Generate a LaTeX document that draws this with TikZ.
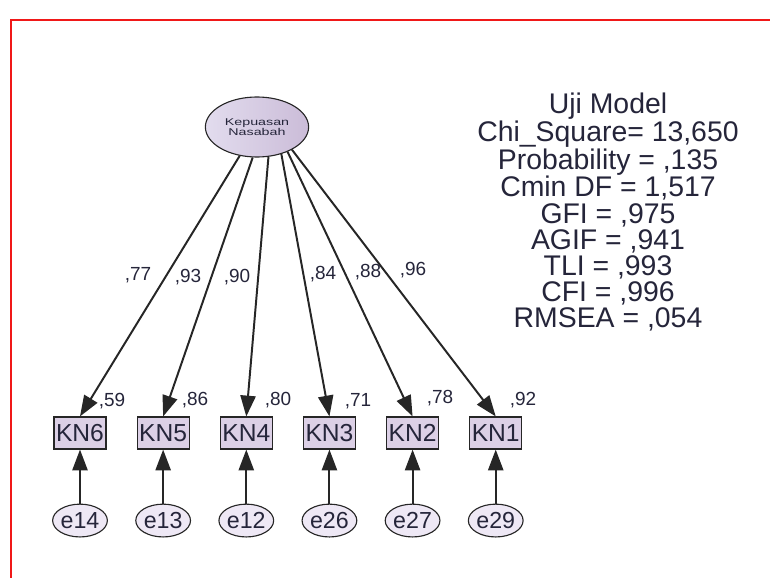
\documentclass[tikz,border=0pt]{standalone}
\usepackage{fontspec}
\setmainfont{Liberation Sans}
\usepackage{graphicx}
\usepackage{tikz}
\usetikzlibrary{positioning,arrows.meta,shapes.geometric}
\definecolor{AmosLine}{HTML}{262626}
\definecolor{AmosText}{HTML}{25253A}
\definecolor{LatentLeft}{HTML}{E2DCEE}
\definecolor{LatentMid}{HTML}{EEE6F6}
\definecolor{LatentRight}{HTML}{CBBCD8}
\definecolor{ItemFill}{HTML}{DCD0E6}
\definecolor{ErrFill}{HTML}{EEE8F5}
\definecolor{FrameRed}{HTML}{F01818}
\newcommand{\widetext}[1]{\scalebox{1.45}[1]{#1}}

\begin{document}
\begin{tikzpicture}[
        x=0.025cm, y=-0.025cm,
        node distance=0.75cm,
        latent/.style={
            ellipse,
            draw=AmosLine,
            thick,
            left color=LatentLeft,
            middle color=LatentMid,
            right color=LatentRight,
            minimum width=2.58cm,
            minimum height=1.5cm,
            inner sep=0pt,
            align=center,
            text=AmosText,
            font=\fontsize{7}{7.5}\selectfont
        },
        item/.style={
            draw=AmosLine,
            thick,
            fill=ItemFill,
            minimum width=1.3cm,
            minimum height=0.8cm,
            inner sep=0pt,
            text=AmosText,
            font=\fontsize{17.5}{17.5}\selectfont
        },
        err/.style={
            ellipse,
            draw=AmosLine,
            thick,
            fill=ErrFill,
            minimum width=1.05cm,
            minimum height=0.82cm,
            inner sep=0pt,
            text=AmosText,
            font=\fontsize{16.5}{16.5}\selectfont
        },
        coef/.style={inner sep=0pt, text=AmosText, font=\fontsize{13.5}{14}\selectfont},
        stats/.style={align=center, inner sep=0pt, text=AmosText, font=\fontsize{20.2}{18.6}\selectfont},
        arr/.style={-{Triangle[length=0.52cm, width=0.38cm]}, line width=1.4pt, AmosLine}
    ]
        \useasboundingbox (0,0) rectangle (770,578);
        \draw[FrameRed, line width=1.3pt] (770,20) -| (11,578);

        \node[latent] (kn) at (257,127) {\widetext{Kepuasan}\\\widetext{Nasabah}};

        \node[item] (kn6) at (80,433) {KN6};
        \node[item, right=of kn6] (kn5) {KN5};
        \node[item, right=of kn5] (kn4) {KN4};
        \node[item, right=of kn4] (kn3) {KN3};
        \node[item, right=of kn3] (kn2) {KN2};
        \node[item, right=of kn2] (kn1) {KN1};

        \node[err, below=1.35cm of kn6] (e14) {e14};
        \node[err, below=1.35cm of kn5] (e13) {e13};
        \node[err, below=1.35cm of kn4] (e12) {e12};
        \node[err, below=1.35cm of kn3] (e26) {e26};
        \node[err, below=1.35cm of kn2] (e27) {e27};
        \node[err, below=1.35cm of kn1] (e29) {e29};

        \draw[arr] (kn.239) -- (kn6.north);
        \draw[arr] (kn.262) -- (kn5.north);
        \draw[arr] (kn.291) -- (kn4.north);
        \draw[arr] (kn.312) -- (kn3.north);
        \draw[arr] (kn.321) -- (kn2.north);
        \draw[arr] (kn.327) -- (kn1.north);

        \draw[arr] (e14) -- (kn6);
        \draw[arr] (e13) -- (kn5);
        \draw[arr] (e12) -- (kn4);
        \draw[arr] (e26) -- (kn3);
        \draw[arr] (e27) -- (kn2);
        \draw[arr] (e29) -- (kn1);

        \node[coef] (w6) at (138,275) {,77};
        \node[coef] (w5) at (188,277) {,93};
        \node[coef] (w4) at (237,277) {,90};
        \node[coef] (w3) at (323,274) {,84};
        \node[coef] (w2) at (368,272) {,88};
        \node[coef] (w1) at (413,270) {,96};

        \node[coef] (r6) at (112,401) {,59};
        \node[coef] (r5) at (195,400) {,86};
        \node[coef] (r4) at (278,400) {,80};
        \node[coef] (r3) at (358,401) {,71};
        \node[coef] (r2) at (440,398) {,78};
        \node[coef] (r1) at (523,400) {,92};

        \node[stats] (fit) at (608,212) {Uji Model\\Chi\_Square= 13,650\\Probability = ,135\\Cmin DF = 1,517\\GFI = ,975\\AGIF = ,941\\TLI = ,993\\CFI = ,996\\RMSEA = ,054};
    \end{tikzpicture}
\end{document}
